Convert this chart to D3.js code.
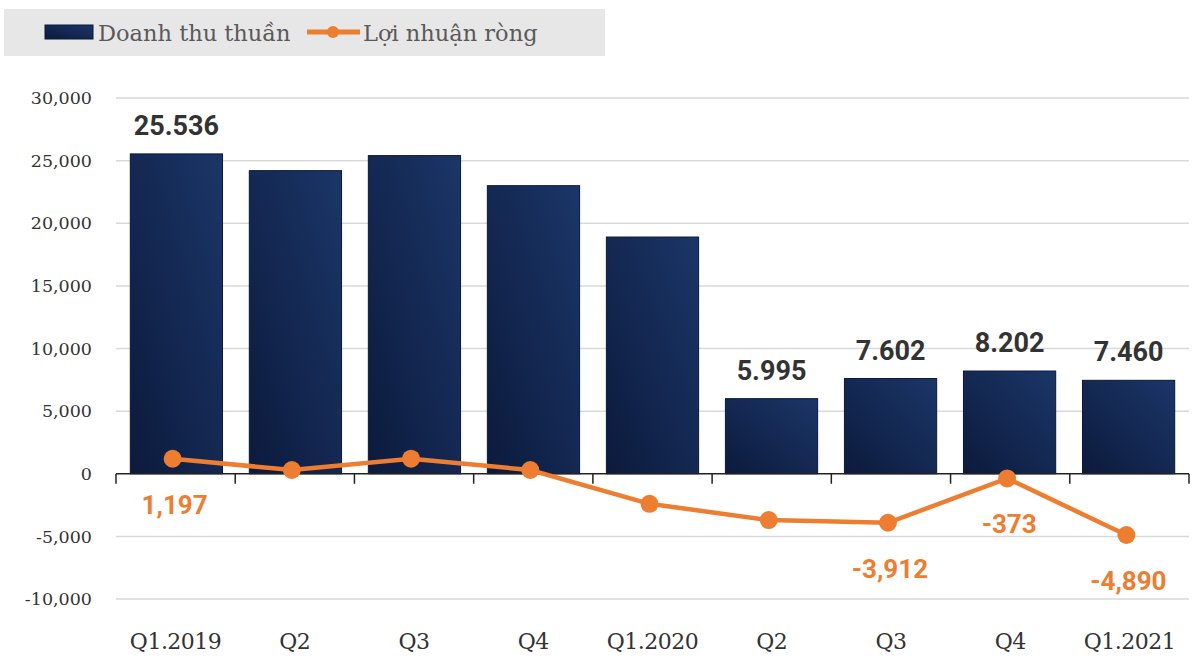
<!DOCTYPE html>
<html><head><meta charset="utf-8">
<script src="https://cdn.jsdelivr.net/npm/d3@7/dist/d3.min.js"></script>
<style>body{margin:0;background:#fff}svg{display:block}</style>
</head><body><svg id="c" width="1200" height="671"></svg>
<script>
const categories = ["Q1.2019","Q2","Q3","Q4","Q1.2020","Q2","Q3","Q4","Q1.2021"];
const revenue = [25536, 24200, 25400, 23000, 18900, 5995, 7602, 8202, 7460];
const profit = [1197, 300, 1200, 300, -2400, -3700, -3912, -373, -4890];
const revenueLabels = ["25.536", null, null, null, null, "5.995", "7.602", "8.202", "7.460"];
const profitLabels = ["1,197", null, null, null, null, null, "-3,912", "-373", "-4,890"];
const yTicks = [-10000, -5000, 0, 5000, 10000, 15000, 20000, 25000, 30000];
const legendNames = ["Doanh thu thuần", "Lợi nhuận ròng"];

const svg = d3.select("#c");
const serif = "'DejaVu Serif',serif";
const left = 116, right = 1189;
const x = d3.scaleBand().domain(d3.range(categories.length)).range([left, right]).paddingInner(0.225).paddingOuter(0.12);
const xb = d3.scaleBand().domain(d3.range(categories.length)).range([left, right]);
const y = d3.scaleLinear().domain([-10000, 30000]).range([599, 98]);
const cx = i => xb(i) + xb.bandwidth()/2 - 3;

const defs = svg.append("defs");
const g = defs.append("linearGradient").attr("id","bg").attr("x1","0").attr("y1","1").attr("x2","1").attr("y2","0");
g.append("stop").attr("offset","0").attr("stop-color","#0c1a3c");
g.append("stop").attr("offset","1").attr("stop-color","#1b3668");

// legend
svg.append("rect").attr("x",4).attr("y",9).attr("width",601).attr("height",47).attr("fill","#e7e7e7");
svg.append("rect").attr("x",45).attr("y",25).attr("width",48).attr("height",14).attr("fill","url(#bg)").attr("stroke","#0a1838").attr("stroke-width",1);
svg.append("text").attr("x",98).attr("y",41).text(legendNames[0]).attr("font-family",serif).attr("font-size",22.5).attr("fill","#5a5a5a");
svg.append("line").attr("x1",307).attr("x2",360).attr("y1",32).attr("y2",32).attr("stroke","#ed7d31").attr("stroke-width",5);
svg.append("circle").attr("cx",333).attr("cy",32).attr("r",6).attr("fill","#ed7d31");
svg.append("text").attr("x",363).attr("y",41).text(legendNames[1]).attr("font-family",serif).attr("font-size",22.5).attr("fill","#5a5a5a");

// gridlines
svg.append("g").selectAll("line").data(yTicks.filter(d=>d!==0)).join("line")
  .attr("x1",left).attr("x2",right).attr("y1",d=>y(d)).attr("y2",d=>y(d))
  .attr("stroke","#d9d9d9").attr("stroke-width",1.5);

// y axis labels
svg.append("g").selectAll("text").data(yTicks).join("text")
  .attr("x",92).attr("y",d=>y(d)).attr("dy","0.35em").attr("text-anchor","end")
  .attr("font-family",serif).attr("font-size",17.5).attr("fill","#333")
  .text(d=>d3.format(",")(d).replace("\u2212","-"));

// bars
svg.append("g").selectAll("rect").data(revenue).join("rect")
  .attr("x",(d,i)=>x(i)).attr("width",x.bandwidth())
  .attr("y",d=>y(d)).attr("height",d=>y(0)-y(d))
  .attr("fill","url(#bg)").attr("stroke","#0a1838").attr("stroke-width",1);

// zero axis
const ax = svg.append("g").attr("transform",`translate(0,${y(0)})`);
ax.append("line").attr("x1",left).attr("x2",right).attr("stroke","#222").attr("stroke-width",1.5);
ax.selectAll("line.t").data(d3.range(categories.length+1)).join("line").attr("class","t")
  .attr("x1",i=>left+i*xb.step()).attr("x2",i=>left+i*xb.step()).attr("y1",0).attr("y2",10)
  .attr("stroke","#222").attr("stroke-width",1.5);

// x labels
svg.append("g").selectAll("text").data(categories).join("text")
  .attr("x",(d,i)=>xb(i)+xb.bandwidth()/2).attr("y",649).attr("text-anchor","middle")
  .attr("font-family",serif).attr("font-size",22).attr("letter-spacing","-0.5").attr("fill","#333").text(d=>d);

// revenue labels
svg.append("g").selectAll("text").data(revenue).join("text")
  .attr("x",(d,i)=>x(i)+x.bandwidth()/2).attr("y",d=>y(d)-19).attr("text-anchor","middle")
  .attr("font-family","Roboto, sans-serif").attr("font-weight","bold").attr("font-size",27).attr("fill","#333")
  .text((d,i)=>revenueLabels[i]||"");

// profit line
const line = d3.line().x((d,i)=>cx(i)).y(d=>y(d));
svg.append("path").datum(profit).attr("d",line).attr("fill","none").attr("stroke","#ed7d31").attr("stroke-width",4.5);
svg.append("g").selectAll("circle").data(profit).join("circle")
  .attr("cx",(d,i)=>cx(i)).attr("cy",d=>y(d)).attr("r",9).attr("fill","#ed7d31");

svg.append("g").selectAll("text").data(profit).join("text")
  .attr("x",(d,i)=>cx(i)+2).attr("y",d=>y(d)+55).attr("text-anchor","middle")
  .attr("font-family","Roboto, sans-serif").attr("font-weight","bold").attr("font-size",26).attr("fill","#ed7d31")
  .text((d,i)=>profitLabels[i]||"");
</script></body></html>
